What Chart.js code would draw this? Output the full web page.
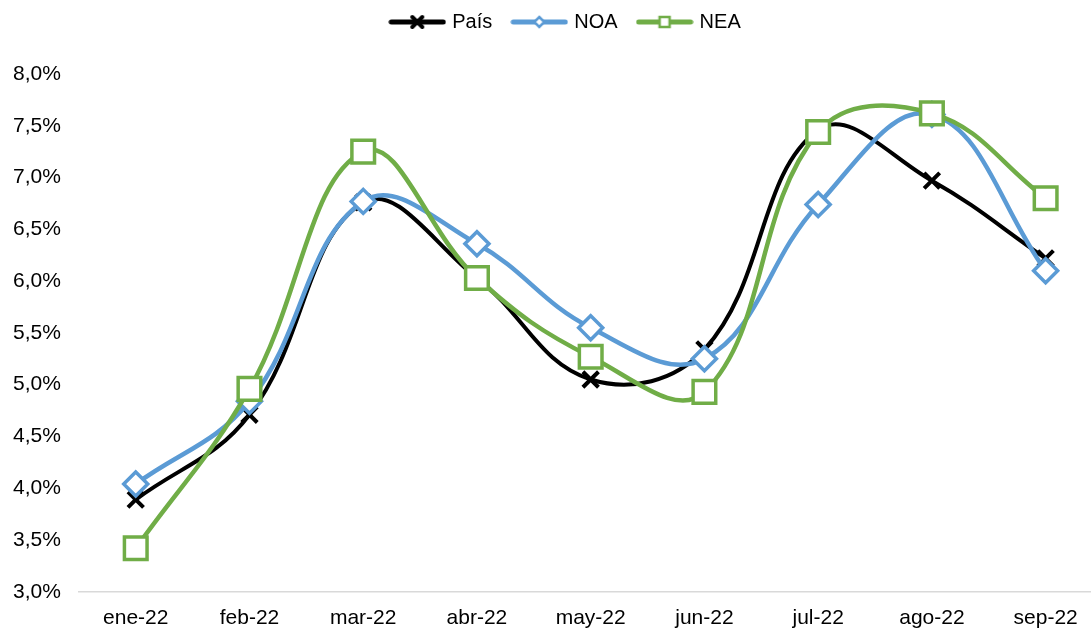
<!DOCTYPE html>
<html>
<head>
<meta charset="utf-8">
<script src="https://cdn.jsdelivr.net/npm/chart.js@4.4.0/dist/chart.umd.min.js"></script>
<style>
  html, body { margin: 0; padding: 0; background: #fff; overflow: hidden; }
  #wrap { width: 1122px; height: 633px; }
</style>
</head>
<body>
<div id="wrap"><canvas id="chart"></canvas></div>
<script>
// months
const labels = ['ene-22', 'feb-22', 'mar-22', 'abr-22', 'may-22', 'jun-22', 'jul-22', 'ago-22', 'sep-22'];

// values in %
const pais = [3.89, 4.71, 6.76, 6.03, 5.05, 5.34, 7.46, 6.97, 6.22];
const noa  = [4.04, 4.84, 6.77, 6.36, 5.55, 5.25, 6.74, 7.61, 6.10];
const nea  = [3.42, 4.96, 7.25, 6.03, 5.27, 4.93, 7.44, 7.62, 6.80];

// y ticks
const yMin = 3.0;
const yMax = 8.0;
const yStep = 0.5;

const colBlack = '#000000';
const colBlue = '#5B9BD5';
const colGreen = '#70AD47';

// legend icon: line with the marker in the middle
function legendIcon(color, style) {
    const c = document.createElement('canvas');
    c.width = 58; c.height = 18;
    const g = c.getContext('2d');
    g.strokeStyle = color;
    g.lineWidth = 5;
    g.lineCap = 'round';
    g.beginPath(); g.moveTo(3, 9); g.lineTo(55, 9); g.stroke();
    if (style === 'cross') {
        g.lineWidth = 4;
        g.beginPath();
        g.moveTo(24, 4); g.lineTo(34, 14);
        g.moveTo(34, 4); g.lineTo(24, 14);
        g.stroke();
    } else if (style === 'diamond') {
        g.lineWidth = 2.5;
        g.fillStyle = '#fff';
        g.beginPath();
        g.moveTo(29, 4); g.lineTo(34, 9); g.lineTo(29, 14); g.lineTo(24, 9); g.closePath();
        g.fill(); g.stroke();
    } else {
        g.lineWidth = 2.5;
        g.fillStyle = '#fff';
        g.fillRect(24, 4, 10, 10);
        g.strokeRect(24, 4, 10, 10);
    }
    return c;
}
const icons = [legendIcon(colBlack, 'cross'), legendIcon(colBlue, 'diamond'), legendIcon(colGreen, 'square')];

// extra room under the legend, and nudge it a little to the right
const legendGap = {
    id: 'legendGap',
    beforeInit(chart) {
        const fit = chart.legend.fit;
        chart.legend.fit = function () {
            fit.bind(chart.legend)();
            this.height += 32;
        };
    },
    afterLayout(chart) {
        chart.legend.left += 8;
        chart.legend.right += 8;
    }
};

Chart.defaults.font.family = '"Liberation Sans", Arial, sans-serif';
Chart.defaults.color = '#000';

const ctx = document.getElementById('chart').getContext('2d');
new Chart(ctx, {
    type: 'line',
    data: {
        labels: labels,
        datasets: [
            {
                label: 'País',
                data: pais,
                borderColor: colBlack,
                borderWidth: 4,
                tension: 0.4,
                pointStyle: 'crossRot',
                pointRadius: 11,
                pointBorderWidth: 4,
                pointBorderColor: colBlack,
                pointBackgroundColor: colBlack,
                order: 3
            },
            {
                label: 'NOA',
                data: noa,
                borderColor: colBlue,
                borderWidth: 4.5,
                tension: 0.4,
                pointStyle: 'rectRot',
                pointRadius: 12,
                pointBorderWidth: 3.5,
                pointBorderColor: colBlue,
                pointBackgroundColor: '#fff',
                order: 2
            },
            {
                label: 'NEA',
                data: nea,
                borderColor: colGreen,
                borderWidth: 4.5,
                tension: 0.4,
                pointStyle: 'rect',
                pointRadius: 16,
                pointBorderWidth: 3.5,
                pointBorderColor: colGreen,
                pointBackgroundColor: '#fff',
                order: 1
            }
        ]
    },
    options: {
        responsive: true,
        maintainAspectRatio: false,
        animation: false,
        layout: { padding: { left: -5, right: 0, top: -10, bottom: -12 } },
        plugins: {
            tooltip: { enabled: false },
            legend: {
                position: 'top',
                reverse: true,
                labels: {
                    usePointStyle: true,
                    pointStyleWidth: 50,
                    boxHeight: 18,
                    padding: 22,
                    font: { size: 20 },
                    generateLabels: function (chart) {
                        const items = Chart.defaults.plugins.legend.labels.generateLabels(chart);
                        items.forEach(it => { it.pointStyle = icons[it.datasetIndex]; });
                        return items;
                    }
                }
            }
        },
        scales: {
            x: {
                offset: true,
                grid: { display: false, drawTicks: false },
                border: { display: true, color: '#d9d9d9', width: 1.5 },
                ticks: { font: { size: 21 }, padding: 14, maxRotation: 0 }
            },
            y: {
                min: yMin,
                max: yMax,
                grid: { display: false, drawTicks: false },
                border: { display: false },
                ticks: {
                    stepSize: yStep,
                    font: { size: 21 },
                    padding: 18,
                    callback: v => v.toFixed(1).replace('.', ',') + '%'
                }
            }
        }
    },
    plugins: [legendGap]
});
</script>
</body>
</html>
